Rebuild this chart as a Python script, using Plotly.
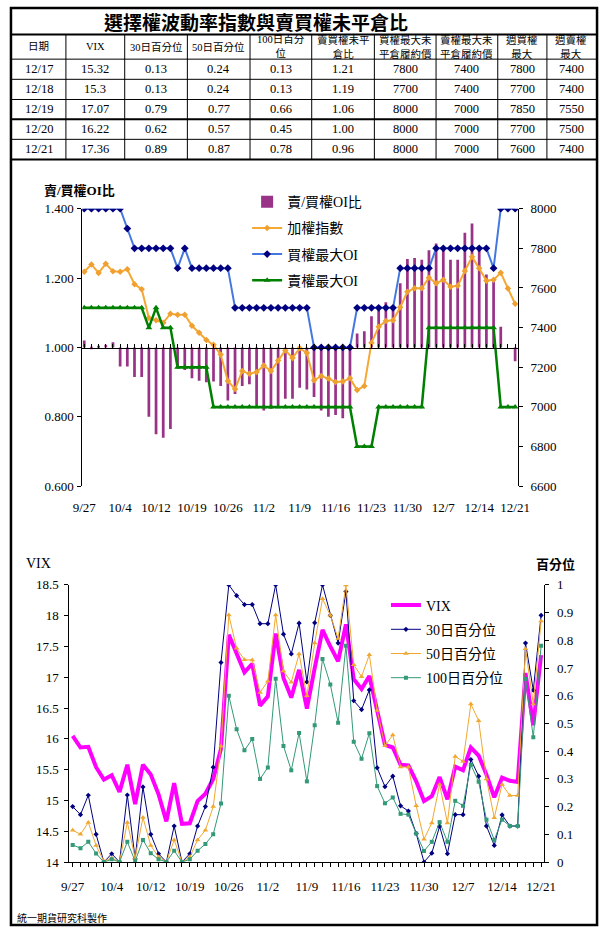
import plotly.graph_objects as go

W, H = 610, 935
def px(x): return x / W
def py(y): return 1 - y / H

SERIF = "Liberation Serif, Noto Sans CJK TC, serif"
CJK = "Noto Sans CJK TC, sans-serif"

dates = ["9/27","9/28","10/1","10/2","10/3","10/4","10/5","10/8","10/9","10/11",
         "10/12","10/15","10/16","10/17","10/18","10/19","10/22","10/23","10/24","10/25",
         "10/26","10/29","10/30","10/31","11/1","11/2","11/5","11/6","11/7","11/8",
         "11/9","11/12","11/13","11/14","11/15","11/16","11/19","11/20","11/21","11/22",
         "11/23","11/26","11/27","11/28","11/29","11/30","12/3","12/4","12/5","12/6",
         "12/7","12/10","12/11","12/12","12/13","12/14","12/17","12/18","12/19","12/20",
         "12/21"]

ratio = [1.02, 0.995, 1.005, 1.008, 1.015, 0.945, 0.945, 0.915, 0.915, 0.80,
         0.75, 0.74, 0.765, 0.94, 0.935, 0.911, 0.904, 0.90, 0.902, 0.889,
         0.847, 0.866, 0.889, 0.894, 0.833, 0.818, 0.823, 0.833, 0.852, 0.852,
         0.884, 0.879, 0.857, 0.818, 0.80, 0.805, 0.796, 0.828, 1.04, 1.047,
         1.09, 1.107, 1.13, 1.12, 1.185, 1.255, 1.258, 1.253, 1.28, 1.30,
         1.29, 1.253, 1.253, 1.331, 1.357, 1.283, 1.21, 1.19, 1.06, 1.00,
         0.96]

taiex = [7682, 7719, 7676, 7722, 7684, 7682, 7694, 7619, 7594, 7449,
         7437, 7424, 7470, 7465, 7465, 7409, 7374, 7338, 7313, 7264,
         7131, 7090, 7181, 7167, 7176, 7209, 7181, 7234, 7285, 7247,
         7296, 7272, 7134, 7156, 7143, 7126, 7128, 7144, 7085, 7106,
         7324, 7404, 7434, 7437, 7503, 7581, 7599, 7599, 7652, 7624,
         7641, 7606, 7611, 7686, 7757, 7699, 7636, 7641, 7677, 7598,
         7520]

call_max = [8000, 8000, 8000, 8000, 8000, 8000, 7900, 7800, 7800, 7800,
            7800, 7800, 7800, 7700, 7800, 7700, 7700, 7700, 7700, 7700,
            7700, 7500, 7500, 7500, 7500, 7500, 7500, 7500, 7500, 7500,
            7500, 7500, 7300, 7300, 7300, 7300, 7300, 7300, 7500, 7500,
            7500, 7500, 7500, 7500, 7700, 7700, 7700, 7700, 7700, 7800,
            7800, 7800, 7800, 7800, 7800, 7800, 7800, 7700, 8000, 8000,
            8000]

put_max = [7500, 7500, 7500, 7500, 7500, 7500, 7500, 7500, 7500, 7400,
           7500, 7400, 7400, 7200, 7200, 7200, 7200, 7200, 7000, 7000,
           7000, 7000, 7000, 7000, 7000, 7000, 7000, 7000, 7000, 7000,
           7000, 7000, 7000, 7000, 7000, 7000, 7000, 7000, 6800, 6800,
           6800, 7000, 7000, 7000, 7000, 7000, 7000, 7000, 7400, 7400,
           7400, 7400, 7400, 7400, 7400, 7400, 7400, 7400, 7000, 7000,
           7000]

vix = [16.05, 15.86, 15.87, 15.54, 15.34, 15.41, 15.14, 15.58, 14.94, 15.58,
       15.42, 15.10, 14.66, 15.28, 14.62, 14.63, 14.99, 15.11, 15.35, 15.84,
       17.69, 17.40, 17.08, 17.22, 16.54, 16.69, 17.71, 16.99, 16.67, 17.12,
       16.49, 17.15, 17.77, 17.50, 17.26, 17.86, 16.97, 16.81, 17.02, 16.46,
       15.90, 15.86, 15.58, 15.57, 15.31, 14.99, 15.07, 15.38, 15.02, 15.55,
       15.49, 15.86, 15.73, 15.42, 15.05, 15.37, 15.32, 15.30, 17.07, 16.22,
       17.36]

p30 = [0.20, 0.171, 0.241, 0.10, 0.0, 0.03, 0.0, 0.242, 0.012, 0.271,
       0.10, 0.03, 0.0, 0.13, 0.0, 0.03, 0.13, 0.20, 0.342, 0.72,
       1.0, 0.961, 0.929, 0.929, 0.86, 0.86, 1.0, 0.822, 0.751, 0.862,
       0.65, 0.863, 1.0, 0.89, 0.79, 0.976, 0.582, 0.55, 0.621, 0.34,
       0.272, 0.31, 0.203, 0.184, 0.103, 0.0, 0.032, 0.129, 0.03, 0.171,
       0.171, 0.37, 0.31, 0.13, 0.06, 0.17, 0.13, 0.13, 0.79, 0.62,
       0.89]

p50 = [0.115, 0.10, 0.143, 0.06, 0.003, 0.015, 0.0, 0.143, 0.015, 0.161,
       0.06, 0.018, 0.0, 0.08, 0.0, 0.018, 0.08, 0.115, 0.20, 0.418,
       0.891, 0.771, 0.73, 0.729, 0.612, 0.652, 0.891, 0.689, 0.649, 0.751,
       0.60, 0.79, 0.95, 0.89, 0.807, 1.0, 0.712, 0.669, 0.748, 0.547,
       0.42, 0.458, 0.343, 0.343, 0.203, 0.082, 0.141, 0.28, 0.141, 0.381,
       0.363, 0.57, 0.51, 0.30, 0.16, 0.28, 0.24, 0.24, 0.77, 0.57,
       0.87]

p100 = [0.062, 0.05, 0.073, 0.031, 0.0, 0.01, 0.0, 0.073, 0.003, 0.08,
        0.032, 0.01, 0.0, 0.041, 0.0, 0.01, 0.041, 0.065, 0.10, 0.211,
        0.60, 0.479, 0.403, 0.444, 0.30, 0.341, 0.661, 0.419, 0.331, 0.466,
        0.291, 0.494, 0.733, 0.641, 0.503, 0.78, 0.434, 0.373, 0.465, 0.274,
        0.212, 0.233, 0.174, 0.171, 0.103, 0.04, 0.073, 0.144, 0.073, 0.221,
        0.203, 0.351, 0.29, 0.153, 0.08, 0.153, 0.13, 0.13, 0.66, 0.45,
        0.78]

tbl_header = ["日期", "VIX", "30日百分位", "50日百分位", "100日百分<br>位",
              "賣買權未平<br>倉比", "買權最大未<br>平倉履約價", "賣權最大未<br>平倉履約價",
              "週買權<br>最大", "週賣權<br>最大"]
tbl_date = ["12/17", "12/18", "12/19", "12/20", "12/21"]
tbl_vix = ["15.32", "15.3", "17.07", "16.22", "17.36"]
tbl_p30 = ["0.13", "0.13", "0.79", "0.62", "0.89"]
tbl_p50 = ["0.24", "0.24", "0.77", "0.57", "0.87"]
tbl_p100 = ["0.13", "0.13", "0.66", "0.45", "0.78"]
tbl_ratio = ["1.21", "1.19", "1.06", "1.00", "0.96"]
tbl_call = ["7800", "7700", "8000", "8000", "8000"]
tbl_put = ["7400", "7400", "7000", "7000", "7000"]
tbl_wcall = ["7800", "7700", "7850", "7700", "7600"]
tbl_wput = ["7400", "7400", "7550", "7500", "7400"]

title_text = "選擇權波動率指數與賣買權未平倉比"
top_ytitle = "賣/買權OI比"
footer = "統一期貨研究科製作"

idx = list(range(len(dates)))
tickpos = idx[::5]
ticklab = dates[::5]

fig = go.Figure()

# ---- top chart ----
fig.add_trace(go.Bar(x=idx, y=[r - 1 for r in ratio], base=1, width=0.38,
                     marker=dict(color="#993388", line=dict(width=0)),
                     name="賣/買權OI比", xaxis="x", yaxis="y", legend="legend",
                     legendgroup="a", hoverinfo="skip"))
fig.add_trace(go.Scatter(x=idx, y=taiex, mode="lines+markers", name="加權指數",
                         line=dict(color="#F5A833", width=2),
                         marker=dict(symbol="diamond", size=5, color="#F0A030"),
                         xaxis="x3", yaxis="y2", legend="legend", legendgroup="b",
                         hoverinfo="skip"))
fig.add_trace(go.Scatter(x=idx, y=call_max, mode="lines+markers", name="買權最大OI",
                         line=dict(color="#4478E0", width=2),
                         marker=dict(symbol="diamond", size=6, color="#000080"),
                         xaxis="x3", yaxis="y2", legend="legend", legendgroup="c",
                         hoverinfo="skip"))
fig.add_trace(go.Scatter(x=idx, y=put_max, mode="lines+markers", name="賣權最大OI",
                         line=dict(color="#008000", width=2.5),
                         marker=dict(symbol="triangle-up", size=6, color="#008000"),
                         xaxis="x3", yaxis="y2", legend="legend", legendgroup="d",
                         hoverinfo="skip"))

# ---- bottom chart ----
fig.add_trace(go.Scatter(x=idx, y=vix, mode="lines", name="VIX",
                         line=dict(color="#FF00FF", width=4),
                         xaxis="x2", yaxis="y3", legend="legend2", legendgroup="e",
                         hoverinfo="skip"))
fig.add_trace(go.Scatter(x=idx, y=p30, mode="lines+markers", name="30日百分位",
                         line=dict(color="#000080", width=1),
                         marker=dict(symbol="diamond", size=4, color="#000080"),
                         xaxis="x2", yaxis="y4", legend="legend2", legendgroup="f",
                         hoverinfo="skip"))
fig.add_trace(go.Scatter(x=idx, y=p50, mode="lines+markers", name="50日百分位",
                         line=dict(color="#F0A830", width=1),
                         marker=dict(symbol="triangle-up", size=5, color="#F0A830"),
                         xaxis="x2", yaxis="y4", legend="legend2", legendgroup="g",
                         hoverinfo="skip"))
fig.add_trace(go.Scatter(x=idx, y=p100, mode="lines+markers", name="100日百分位",
                         line=dict(color="#339977", width=1),
                         marker=dict(symbol="square", size=4, color="#339977"),
                         xaxis="x2", yaxis="y4", legend="legend2", legendgroup="h",
                         hoverinfo="skip"))

tickf = dict(family=SERIF, size=13, color="black")

# ---- table drawn with shapes + annotations ----
col_edges = [2, 58, 119, 184, 249, 313, 378, 442, 506, 557, 608]
row_edges = [28, 53, 73.5, 94, 114, 134.5, 155]
table_cols = [tbl_date, tbl_vix, tbl_p30, tbl_p50, tbl_p100, tbl_ratio,
              tbl_call, tbl_put, tbl_wcall, tbl_wput]

shapes = [dict(type="rect", xref="paper", yref="paper", x0=px(1), x1=px(609),
               y0=py(933), y1=py(1), line=dict(color="black", width=2.5))]
for k, ry in enumerate(row_edges):
    wdt = 2 if k in (0, 4, len(row_edges) - 1) else 1
    shapes.append(dict(type="line", xref="paper", yref="paper", x0=px(col_edges[0]),
                       x1=px(col_edges[-1]), y0=py(ry), y1=py(ry),
                       line=dict(color="black", width=wdt)))
for cx in col_edges[1:-1]:
    shapes.append(dict(type="line", xref="paper", yref="paper", x0=px(cx), x1=px(cx),
                       y0=py(row_edges[0]), y1=py(row_edges[-1]),
                       line=dict(color="black", width=1)))

annotations = [
    dict(text="<b>" + title_text + "</b>", xref="paper", yref="paper",
         x=px(255), y=py(15), xanchor="center", yanchor="middle",
         showarrow=False, font=dict(family=CJK, size=19, color="black")),
]
for c, head in enumerate(tbl_header):
    cxm = (col_edges[c] + col_edges[c + 1]) / 2
    annotations.append(dict(text=head, xref="paper", yref="paper", x=px(cxm),
                            y=py((row_edges[0] + row_edges[1]) / 2),
                            xanchor="center", yanchor="middle", showarrow=False,
                            font=dict(family=SERIF, size=10.5, color="black")))
    for r, val in enumerate(table_cols[c]):
        annotations.append(dict(text=val, xref="paper", yref="paper", x=px(cxm),
                                y=py((row_edges[r + 1] + row_edges[r + 2]) / 2),
                                xanchor="center", yanchor="middle", showarrow=False,
                                font=dict(family=SERIF, size=12.5, color="black")))

annotations += [
    dict(text="<b>" + top_ytitle + "</b>", xref="paper", yref="paper",
         x=px(72), y=py(186), xanchor="center", yanchor="middle",
         showarrow=False, font=dict(family=SERIF, size=13, color="black")),
    dict(text="VIX", xref="paper", yref="paper",
         x=px(30), y=py(566), xanchor="center", yanchor="middle",
         showarrow=False, font=dict(family=SERIF, size=14, color="black")),
    dict(text="<b>百分位</b>", xref="paper", yref="paper",
         x=px(566), y=py(566), xanchor="center", yanchor="middle",
         showarrow=False, font=dict(family=CJK, size=13, color="black")),
    dict(text=footer, xref="paper", yref="paper",
         x=px(5), y=py(925), xanchor="left", yanchor="middle",
         showarrow=False, font=dict(family=CJK, size=10, color="black")),
]

fig.update_layout(
    width=W, height=H, margin=dict(l=0, r=0, t=0, b=0),
    paper_bgcolor="white", plot_bgcolor="white",
    barmode="overlay", showlegend=True,
    xaxis=dict(domain=[px(75), px(527)], anchor="y", range=[-0.27, 60.4],
               tickmode="array", tickvals=tickpos, ticktext=ticklab,
               showline=False, ticks="", showgrid=False, zeroline=False,
               ticklabelstandoff=12, tickfont=tickf),
    xaxis3=dict(overlaying="x", anchor="free", position=py(346.7), side="top",
                range=[-0.27, 60.4], tickmode="linear", tick0=0, dtick=1,
                showticklabels=False, showline=True, linecolor="black", linewidth=1,
                ticks="outside", ticklen=4, tickcolor="black", showgrid=False,
                zeroline=False),
    yaxis=dict(domain=[py(487), py(205)], anchor="x", range=[0.6, 1.4],
               tickmode="linear", tick0=0.6, dtick=0.2, tickformat=".3f",
               showline=True, linecolor="black", linewidth=1, ticks="outside",
               ticklen=4, tickcolor="black", showgrid=False, zeroline=False,
               tickfont=tickf, ticklabelstandoff=1),
    yaxis2=dict(overlaying="y", side="right", anchor="x", range=[6600, 8000],
                tickmode="linear", tick0=6600, dtick=200,
                showline=True, linecolor="black", linewidth=1, ticks="outside",
                ticklen=4, tickcolor="black", showgrid=False, zeroline=False,
                tickfont=tickf, ticklabelstandoff=5),
    xaxis2=dict(domain=[px(61.7), px(554.3)], anchor="y3", range=[-0.41, 60.41],
                tickmode="array", tickvals=tickpos, ticktext=ticklab,
                minor=dict(ticks="outside", ticklen=4, tickmode="linear", tick0=0,
                           dtick=1, tickcolor="black"),
                showline=True, linecolor="black", linewidth=1, ticks="outside",
                ticklen=4, tickcolor="black", showgrid=False, zeroline=False,
                ticklabelstandoff=8, tickfont=tickf),
    yaxis3=dict(domain=[py(869), py(587.3)], anchor="x2", range=[14, 18.5],
                tickmode="linear", tick0=14, dtick=0.5,
                showline=True, linecolor="black", linewidth=1, ticks="outside",
                ticklen=4, tickcolor="black", showgrid=False, zeroline=False,
                tickfont=tickf, ticklabelstandoff=3),
    yaxis4=dict(overlaying="y3", side="right", anchor="x2", range=[0, 1],
                tickmode="linear", tick0=0, dtick=0.1,
                showline=True, linecolor="black", linewidth=1, ticks="outside",
                ticklen=4, tickcolor="black", showgrid=False, zeroline=False,
                tickfont=tickf, ticklabelstandoff=5),
    legend=dict(x=px(246), y=py(182), xanchor="left", yanchor="top",
                bgcolor="rgba(0,0,0,0)", tracegroupgap=5,
                font=dict(family=SERIF, size=14, color="black")),
    legend2=dict(x=px(390), y=py(592), xanchor="left", yanchor="top",
                 bgcolor="rgba(0,0,0,0)", tracegroupgap=3,
                 font=dict(family=SERIF, size=14, color="black")),
    shapes=shapes,
    annotations=annotations,
)

fig.write_html("out.html", config={"displayModeBar": False},
               post_script="document.body.style.margin='0px';document.body.style.overflow='hidden';")
